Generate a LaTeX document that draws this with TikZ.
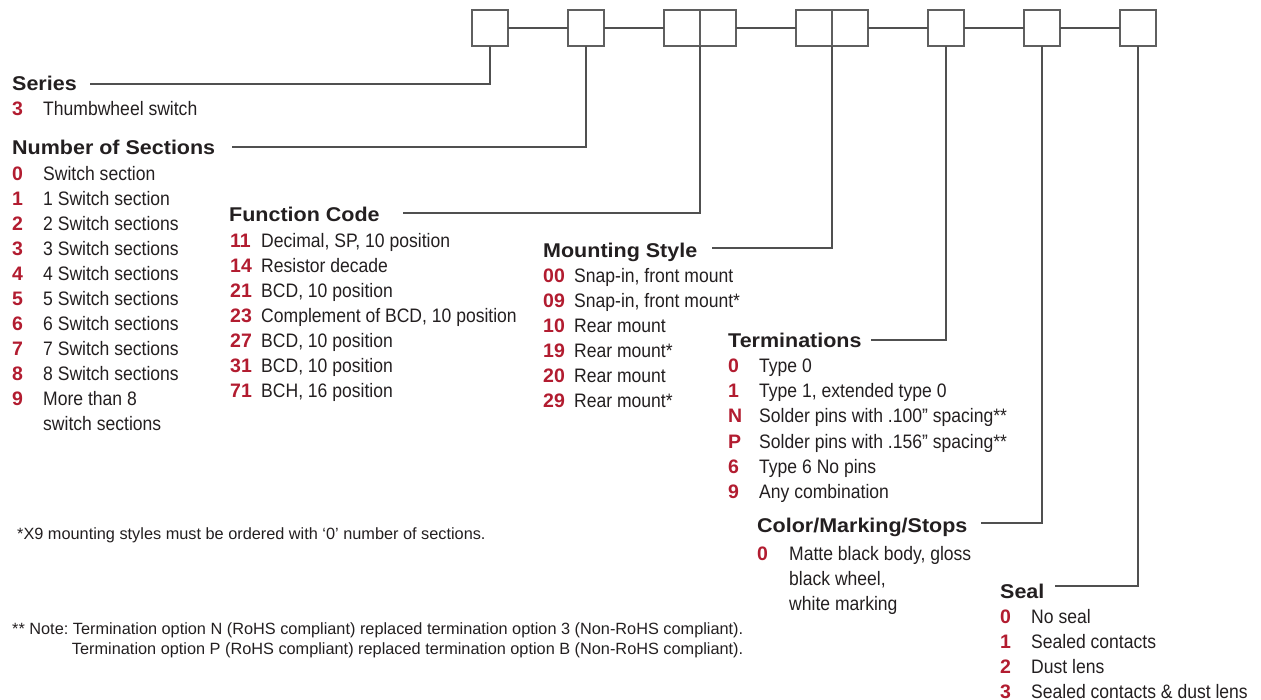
\documentclass[tikz,border=0pt]{standalone}
\usepackage{fontspec}
\setmainfont{Liberation Sans}
\newfontfamily\bodyfont{Liberation Sans}[FakeStretch=0.9]
\newfontfamily\headfont{Liberation Sans}[FakeStretch=1.08]
\frenchspacing
\definecolor{codered}{RGB}{178,28,48}
\definecolor{ink}{RGB}{35,31,32}
\definecolor{linegray}{RGB}{80,80,80}
\definecolor{boxgray}{RGB}{95,95,95}
\tikzset{
  box/.style={draw=boxgray, line width=1.4pt, minimum width=36pt, minimum height=36pt, inner sep=0pt, outer sep=0pt},
  conn/.style={draw=linegray, line width=1.2pt},
  head/.style={anchor=west, inner sep=0pt, text height=14pt, text depth=0pt, text=ink, font={\headfont\bfseries\fontsize{19.9}{24}\selectfont}},
  num/.style={anchor=west, inner sep=0pt, text height=14pt, text depth=0pt, text=codered, font={\fontsize{19.5}{24}\selectfont\bfseries}},
  item/.style={anchor=west, inner sep=0pt, text height=14pt, text depth=0pt, text=ink, font={\bodyfont\fontsize{19.5}{24}\selectfont}},
  foot/.style={inner sep=0pt, text height=12pt, text depth=0pt, text=ink, font={\fontsize{16.3}{20}\selectfont}}
}
\begin{document}
\begin{tikzpicture}[x=1pt,y=-1pt]
\useasboundingbox (0,0) rectangle (1261,700);
% code boxes
\node[box] (b1) at (490,28) {};
\node[box] (b2) at (586,28) {};
\node[box] (b3a) at (682,28) {};
\node[box] (b3b) at (718,28) {};
\node[box] (b4a) at (814,28) {};
\node[box] (b4b) at (850,28) {};
\node[box] (b5) at (946,28) {};
\node[box] (b6) at (1042,28) {};
\node[box] (b7) at (1138,28) {};
\draw[conn] (b1.east) -- (b2.west);
\draw[conn] (b2.east) -- (b3a.west);
\draw[conn] (b3b.east) -- (b4a.west);
\draw[conn] (b4b.east) -- (b5.west);
\draw[conn] (b5.east) -- (b6.west);
\draw[conn] (b6.east) -- (b7.west);
% line ends
\coordinate (cSeries) at (90,84);
\coordinate (cSec) at (232,147);
\coordinate (cFun) at (403,213);
\coordinate (cMount) at (712,248);
\coordinate (cTerm) at (871,340);
\coordinate (cColor) at (981,523);
\coordinate (cSeal) at (1055,586);
\draw[conn] (b1.south) |- (cSeries);
\draw[conn] (b2.south) |- (cSec);
\draw[conn] (b3a.south east) |- (cFun);
\draw[conn] (b4a.south east) |- (cMount);
\draw[conn] (b5.south) |- (cTerm);
\draw[conn] (b6.south) |- (cColor);
\draw[conn] (b7.south) |- (cSeal);
% Series
\node[head] (hSeries) at (12,84) {Series};
\node[num] (nSer) at (12,109) {3};
\node[item] (tSer) at (43,109) {Thumbwheel switch};
% Number of sections
\node[head] (hSec) at (12,148) {Number of Sections};
\foreach \n/\t [count=\i from 0] in {0/Switch section,1/1 Switch section,2/2 Switch sections,3/3 Switch sections,4/4 Switch sections,5/5 Switch sections,6/6 Switch sections,7/7 Switch sections,8/8 Switch sections,9/More than 8}{
  \node[num] (nSec\i) at (12,174+25*\i) {\n};
  \node[item] (tSec\i) at (43,174+25*\i) {\t};
}
\node[item] (tSecX) at (43,424) {switch sections};
% Function code
\node[head] (hFun) at (229,215) {Function Code};
\foreach \n/\t [count=\i from 0] in {11/{Decimal, SP, 10 position},14/Resistor decade,21/{BCD, 10 position},23/{Complement of BCD, 10 position},27/{BCD, 10 position},31/{BCD, 10 position},71/{BCH, 16 position}}{
  \node[num] (nFun\i) at (230,241+25*\i) {\n};
  \node[item] (tFun\i) at (261,241+25*\i) {\t};
}
% Mounting style
\node[head] (hMount) at (543,251) {Mounting Style};
\foreach \n/\t [count=\i from 0] in {00/{Snap-in, front mount},09/{Snap-in, front mount*},10/Rear mount,19/Rear mount*,20/Rear mount,29/Rear mount*}{
  \node[num] (nMnt\i) at (543,276+25*\i) {\n};
  \node[item] (tMnt\i) at (574,276+25*\i) {\t};
}
% Terminations
\node[head] (hTerm) at (728,341) {Terminations};
\foreach \n/\t [count=\i from 0] in {0/Type 0,1/{Type 1, extended type 0},N/Solder pins with .100” spacing**,P/Solder pins with .156” spacing**,6/Type 6 No pins,9/Any combination}{
  \node[num] (nTrm\i) at (728,366+25*\i) {\n};
  \node[item] (tTrm\i) at (759,366+25*\i) {\t};
}
% Color / Marking / Stops
\node[head] (hColor) at (757,525) {Color/Marking/Stops};
\node[num] (nCol) at (757,553) {0};
\node[item] (tCol1) at (789,553) {Matte black body, gloss};
\node[item] (tCol2) at (789,578) {black wheel,};
\node[item] (tCol3) at (789,603) {white marking};
% Seal
\node[head] (hSeal) at (1000,591) {Seal};
\foreach \n/\t [count=\i from 0] in {0/No seal,1/Sealed contacts,2/Dust lens,3/Sealed contacts \& dust lens}{
  \node[num] (nSeal\i) at (1000,616+25*\i) {\n};
  \node[item] (tSeal\i) at (1031,616+25*\i) {\t};
}
% footnotes
\node[foot, anchor=west] (fn1) at (17,533) {*X9 mounting styles must be ordered with ‘0’ number of sections.};
\node[foot, anchor=west] (fn2) at (12,628) {** Note: Termination option N (RoHS compliant) replaced termination option 3 (Non-RoHS compliant).};
\node[foot, anchor=east] (fn3) at (fn2.east |- 0,648) {Termination option P (RoHS compliant) replaced termination option B (Non-RoHS compliant).};
\end{tikzpicture}
\end{document}
